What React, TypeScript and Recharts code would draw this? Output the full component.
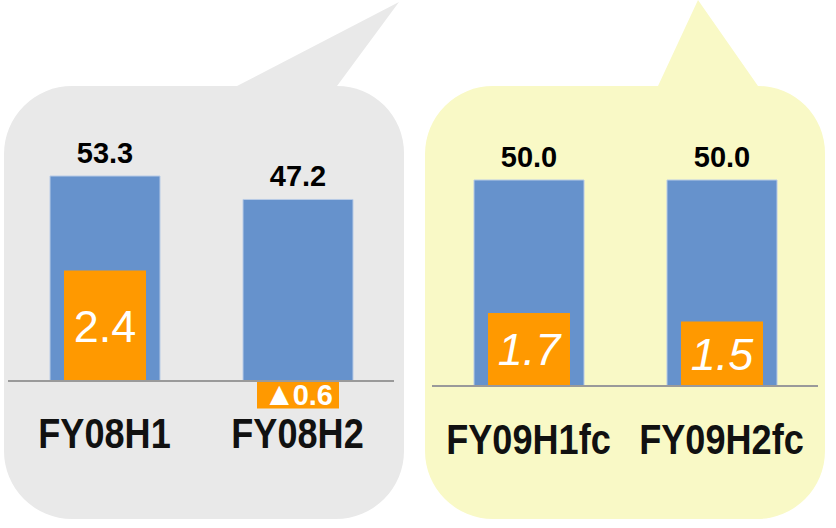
import React from 'react';
import { BarChart, Bar, XAxis, YAxis, ReferenceLine, LabelList } from 'recharts';

// Results (FY08) and forecast (FY09), half-year figures
const actualPeriods = ['FY08H1', 'FY08H2'];
const actualSales = [53.3, 47.2];
const actualProfit = [2.4, -0.6];

const forecastPeriods = ['FY09H1fc', 'FY09H2fc'];
const forecastSales = [50.0, 50.0];
const forecastProfit = [1.7, 1.5];

const BLUE = '#6692cc';
const ORANGE = '#ff9900';
const FONT = '"Liberation Sans", Arial, sans-serif';

const CHART_W = 402;
const CHART_H = 528;
const MARGIN_TOP = 40;
const MARGIN_BOTTOM = 40;
const AXIS_H = 60;
const PLOT_TOP = MARGIN_TOP;
const PLOT_BOTTOM = CHART_H - MARGIN_BOTTOM - AXIS_H;

// domain that puts zero at zeroY with the given pixels per unit
function domainFor(zeroY: number, pxPerUnit: number): [number, number] {
  return [-(PLOT_BOTTOM - zeroY) / pxPerUnit, (zeroY - PLOT_TOP) / pxPerUnit];
}

function PeriodTick(props: any) {
  const { x, y, payload, dy } = props;
  return (
    <g transform={`translate(${x},${y + dy})`}>
      <text transform="scale(0.84,1)" textAnchor="middle" fontSize={43} fontWeight="bold" fill="#111" fontFamily={FONT}>
        {payload.value}
      </text>
    </g>
  );
}

function ProfitLabel(props: any) {
  const { x, y, width, height, value, italic } = props;
  const neg = value < 0;
  const cx = x + width / 2;
  const cy = y + height / 2;
  if (neg) {
    // negative figures are written with a leading triangle
    return (
      <text x={cx} y={cy + 10} textAnchor="middle" fill="#fff" fontSize={29} fontWeight="bold" fontFamily={FONT}>
        <tspan fontSize={33}>▲</tspan>
        <tspan dx={-3}>{Math.abs(value).toFixed(1)}</tspan>
      </text>
    );
  }
  return (
    <text
      x={cx}
      y={cy + 16}
      textAnchor="middle"
      fill="#fff"
      fontSize={45}
      fontStyle={italic ? 'italic' : 'normal'}
      fontFamily={FONT}
    >
      {Number(value).toFixed(1)}
    </text>
  );
}

interface PanelProps {
  periods: string[];
  sales: number[];
  profit: number[];
  left: number;
  zeroY: number;
  salesScale: number;
  profitScale: number;
  tickDy: number;
  italic?: boolean;
}

function Panel({ periods, sales, profit, left, zeroY, salesScale, profitScale, tickDy, italic }: PanelProps) {
  const data = periods.map((period, i) => ({ period, sales: sales[i], profit: profit[i] }));
  return (
    <div style={{ position: 'absolute', left, top: 0 }}>
      <BarChart width={CHART_W} height={CHART_H} data={data} margin={{ top: MARGIN_TOP, right: 8, bottom: MARGIN_BOTTOM, left: 8 }}>
        <XAxis
          xAxisId="sales"
          dataKey="period"
          height={AXIS_H}
          axisLine={false}
          tickLine={false}
          tick={<PeriodTick dy={tickDy} />}
        />
        <XAxis xAxisId="profit" dataKey="period" hide />
        <YAxis yAxisId="sales" hide allowDataOverflow domain={domainFor(zeroY, salesScale)} />
        <YAxis yAxisId="profit" hide allowDataOverflow domain={domainFor(zeroY, profitScale)} />
        <ReferenceLine xAxisId="sales" yAxisId="sales" y={0} stroke="#9a9a9a" strokeWidth={2} />
        <Bar
          xAxisId="sales"
          yAxisId="sales"
          dataKey="sales"
          fill={BLUE}
          stroke="#b8cbe6"
          strokeWidth={1}
          barSize={110}
          isAnimationActive={false}
        >
          <LabelList
            dataKey="sales"
            position="top"
            offset={13}
            fill="#000"
            fontSize={29}
            fontWeight="bold"
            fontFamily={FONT}
            formatter={(v: any) => Number(v).toFixed(1)}
          />
        </Bar>
        <Bar xAxisId="profit" yAxisId="profit" dataKey="profit" fill={ORANGE} barSize={82} isAnimationActive={false}>
          <LabelList dataKey="profit" content={<ProfitLabel italic={italic} />} />
        </Bar>
      </BarChart>
    </div>
  );
}

export default function App() {
  return (
    <div style={{ position: 'absolute', left: 0, top: 0, width: 836, height: 528, background: '#fff', fontFamily: FONT }}>
      <svg width={836} height={528} style={{ position: 'absolute', left: 0, top: 0 }}>
        {/* callout behind the results */}
        <path
          d="M 72 86 L 237 86 L 399 2 L 337 86 A 67 67 0 0 1 404 153 L 404 451 A 68 68 0 0 1 336 519 L 72 519 A 68 68 0 0 1 4 451 L 4 154 A 68 68 0 0 1 72 86 Z"
          fill="#e9e9e9"
        />
        {/* callout behind the forecast */}
        <path
          d="M 493 86 L 658 86 L 698 0 L 758 86 A 67 67 0 0 1 825 153 L 825 451 A 68 68 0 0 1 757 519 L 493 519 A 68 68 0 0 1 425 451 L 425 154 A 68 68 0 0 1 493 86 Z"
          fill="#f9f9c6"
        />
      </svg>
      <Panel
        periods={actualPeriods}
        sales={actualSales}
        profit={actualProfit}
        left={0}
        zeroY={381}
        salesScale={3.846}
        profitScale={46}
        tickDy={-18}
      />
      <Panel
        periods={forecastPeriods}
        sales={forecastSales}
        profit={forecastProfit}
        left={424}
        zeroY={386}
        salesScale={4.12}
        profitScale={43}
        tickDy={-12}
        italic
      />
    </div>
  );
}
